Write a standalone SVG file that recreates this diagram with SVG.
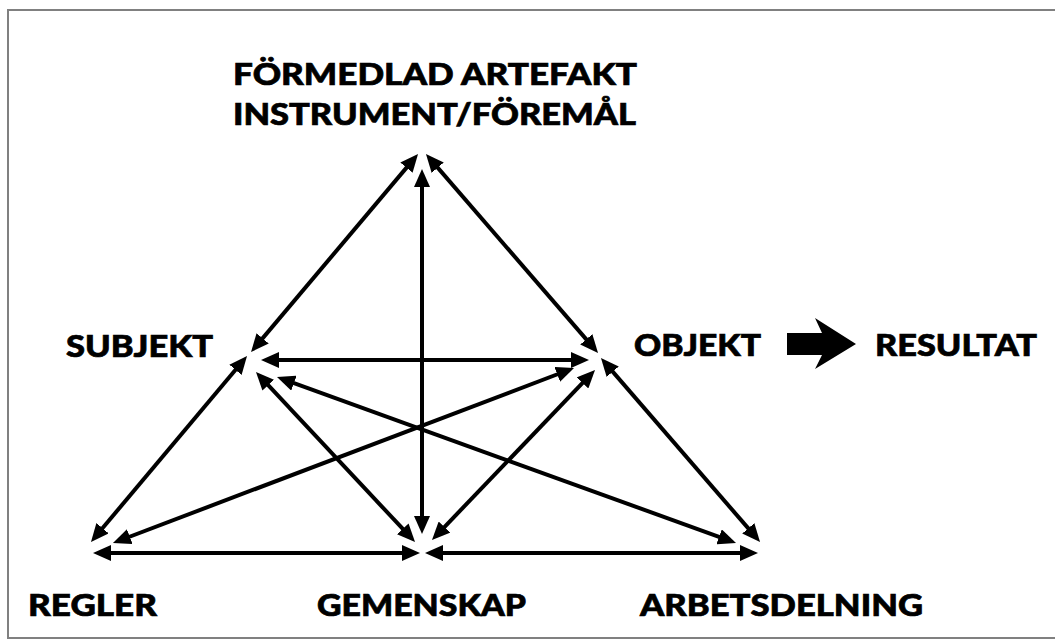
<svg xmlns="http://www.w3.org/2000/svg" width="1055" height="642" viewBox="0 0 1055 642">
  <defs>
    <style>
      .lbl { font-family: "Lato", "Liberation Sans", sans-serif; font-weight: 900; font-size: 31px; fill: #000; stroke: #000; stroke-width: 0.7; }
      .con line { stroke: #000; stroke-width: 4; marker-start: url(#ah); marker-end: url(#ah); }
    </style>
    <marker id="ah" markerUnits="userSpaceOnUse" markerWidth="18" markerHeight="16" viewBox="0 0 18 16" refX="8" refY="8" orient="auto-start-reverse">
      <path d="M0,0 L18,8 L0,16 z" fill="#000"/>
    </marker>
  </defs>
  <rect width="1055" height="642" fill="#fff"/>
  <path d="M1055,10 H8 V638 H1055" fill="none" stroke="#808080" stroke-width="2"/>

  <g id="instrument">
    <text class="lbl" x="233" y="85" textLength="404" lengthAdjust="spacingAndGlyphs">FÖRMEDLAD ARTEFAKT</text>
    <text class="lbl" x="233" y="125" textLength="403" lengthAdjust="spacingAndGlyphs">INSTRUMENT/FÖREMÅL</text>
  </g>
  <g id="subjekt">
    <text class="lbl" x="66" y="357" textLength="147" lengthAdjust="spacingAndGlyphs">SUBJEKT</text>
  </g>
  <g id="objekt">
    <text class="lbl" x="634" y="356" textLength="127" lengthAdjust="spacingAndGlyphs">OBJEKT</text>
  </g>
  <g id="resultat-arrow">
    <polygon points="787,333 822,333 815,318 856,344 815,369 822,355 787,355" fill="#000"/>
  </g>
  <g id="resultat">
    <text class="lbl" x="875" y="356" textLength="162" lengthAdjust="spacingAndGlyphs">RESULTAT</text>
  </g>
  <g id="regler">
    <text class="lbl" x="28" y="616" textLength="129" lengthAdjust="spacingAndGlyphs">REGLER</text>
  </g>
  <g id="gemenskap">
    <text class="lbl" x="317" y="616" textLength="209" lengthAdjust="spacingAndGlyphs">GEMENSKAP</text>
  </g>
  <g id="arbetsdelning">
    <text class="lbl" x="640" y="616" textLength="283" lengthAdjust="spacingAndGlyphs">ARBETSDELNING</text>
  </g>

  <g id="connectors" class="con">
    <line x1="411.6" y1="161.6" x2="257.5" y2="344.4"/>
    <line x1="432.5" y1="161.6" x2="591.5" y2="345.4"/>
    <line x1="422" y1="179" x2="422" y2="524"/>
    <line x1="271" y1="360" x2="579" y2="360"/>
    <line x1="240.6" y1="363.7" x2="97.4" y2="534.3"/>
    <line x1="262.8" y1="379.3" x2="408.2" y2="534.7"/>
    <line x1="286.4" y1="380.4" x2="726.6" y2="539.6"/>
    <line x1="564.7" y1="371.5" x2="122.3" y2="539.5"/>
    <line x1="588.1" y1="377.2" x2="438.9" y2="532.8"/>
    <line x1="607.5" y1="365.6" x2="753.5" y2="534.4"/>
    <line x1="103" y1="553" x2="410" y2="553"/>
    <line x1="435" y1="553" x2="748" y2="553"/>
  </g>
</svg>
